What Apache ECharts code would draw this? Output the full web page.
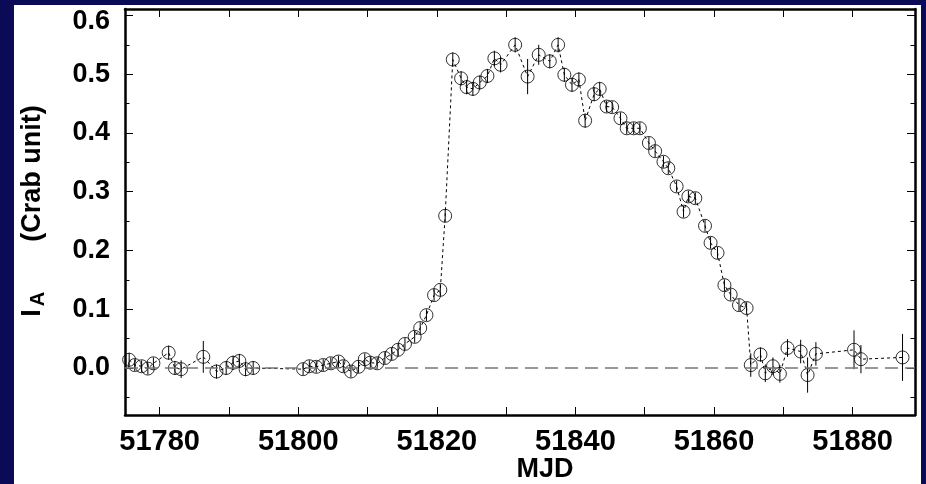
<!DOCTYPE html>
<html>
<head>
<meta charset="utf-8">
<script src="https://cdn.jsdelivr.net/npm/echarts@6/dist/echarts.min.js"></script>
<style>
html,body{margin:0;padding:0;background:#0a0a56;}
#c{width:926px;height:484px;}
</style>
</head>
<body>
<div id="c"></div>
<script>
// ---- data ----
const mjd = [
  51775.6, 51776.4, 51777.4, 51778.3, 51779.1, 51781.3, 51782.2, 51783.1, 51786.3, 51788.2, 51789.6, 51790.6, 51791.5, 51792.4, 51793.5,
  51800.7, 51801.6, 51802.6, 51803.6, 51804.7, 51805.8, 51806.5, 51807.6, 51808.7, 51809.6, 51810.4, 51811.4, 51812.5, 51813.5, 51814.4, 51815.4, 51816.8, 51817.6, 51818.5, 51819.6, 51820.5, 51821.2,
  51822.3, 51823.5, 51824.3, 51825.2, 51826.2, 51827.3, 51828.3, 51829.2, 51831.3, 51833.1, 51834.7, 51836.3, 51837.5, 51838.4, 51839.5, 51840.5, 51841.4, 51842.7, 51843.5,
  51844.5, 51845.3, 51846.5, 51847.4, 51848.4, 51849.3, 51850.6, 51851.5, 51852.7, 51853.4, 51854.6, 51855.6, 51856.3, 51857.3, 51858.7, 51859.5, 51860.5, 51861.5, 51862.4, 51863.6, 51864.7,
  51865.3, 51866.7, 51867.4, 51868.5, 51869.5, 51870.6, 51872.5, 51873.5, 51874.7, 51880.2, 51881.2, 51887.2
];
const flux = [
  0.014, 0.005, 0.003, -0.001, 0.008, 0.026, 0.000, -0.002, 0.019, -0.006, 0.000, 0.009, 0.012, -0.002, 0.000,
  -0.002, 0.003, 0.002, 0.005, 0.008, 0.011, 0.003, -0.006, 0.002, 0.015, 0.009, 0.008, 0.017, 0.024, 0.031, 0.041, 0.053, 0.068, 0.090, 0.124, 0.133, 0.259,
  0.525, 0.493, 0.478, 0.475, 0.486, 0.497, 0.527, 0.516, 0.550, 0.496, 0.533, 0.522, 0.550, 0.499, 0.482, 0.491, 0.421, 0.466, 0.475,
  0.445, 0.444, 0.425, 0.408, 0.408, 0.408, 0.383, 0.369, 0.351, 0.340, 0.309, 0.266, 0.292, 0.289, 0.242, 0.213, 0.196, 0.141, 0.125, 0.107, 0.102,
  0.005, 0.023, -0.009, 0.003, -0.010, 0.034, 0.028, -0.012, 0.024, 0.031, 0.015, 0.018
];
const fluxErr = [
  0.012, 0.010, 0.010, 0.010, 0.010, 0.012, 0.012, 0.015, 0.027, 0.012, 0.012, 0.012, 0.012, 0.012, 0.012,
  0.010, 0.010, 0.010, 0.010, 0.010, 0.010, 0.010, 0.010, 0.010, 0.010, 0.010, 0.010, 0.010, 0.010, 0.010, 0.010, 0.010, 0.010, 0.010, 0.010, 0.010, 0.010,
  0.012, 0.012, 0.012, 0.012, 0.012, 0.012, 0.013, 0.013, 0.013, 0.030, 0.017, 0.012, 0.013, 0.012, 0.012, 0.012, 0.012, 0.012, 0.012,
  0.010, 0.010, 0.010, 0.010, 0.010, 0.010, 0.010, 0.010, 0.010, 0.010, 0.010, 0.010, 0.010, 0.010, 0.010, 0.010, 0.010, 0.010, 0.010, 0.010, 0.010,
  0.020, 0.012, 0.015, 0.015, 0.015, 0.015, 0.020, 0.030, 0.020, 0.033, 0.024, 0.040
];
const xLabelTicks = [51780, 51800, 51820, 51840, 51860, 51880];
const xTicks = [51780, 51790, 51800, 51810, 51820, 51830, 51840, 51850, 51860, 51870, 51880];
const yLabelTicks = [0.0, 0.1, 0.2, 0.3, 0.4, 0.5, 0.6];
const yMinorTicks = [-0.05, 0.05, 0.15, 0.25, 0.35, 0.45, 0.55];
const zeroLevel = 0;

const pts = mjd.map((x, i) => [x, flux[i]]);
const errData = mjd.map((x, i) => [x, flux[i] - fluxErr[i], flux[i] + fluxErr[i]]);

const FONT = '"Liberation Sans", Arial, Helvetica, sans-serif';
const X_MIN = 51775, X_MAX = 51889, Y_MIN = -0.08, Y_MAX = 0.611;

const chart = echarts.init(document.getElementById('c'), null, {renderer: 'canvas'});

function xAx(pos, showLabels) {
  return {
    type: 'value', position: pos, min: X_MIN, max: X_MAX,
    axisLine: {show: true, onZero: false, lineStyle: {color: '#000', width: 2.5}},
    axisTick: {show: true, inside: true, length: 8, customValues: xTicks, lineStyle: {color: '#000', width: 1}},
    axisLabel: {show: showLabels, customValues: xLabelTicks, margin: 12, color: '#000',
      fontFamily: FONT, fontWeight: 'bold', fontSize: 29, formatter: v => String(v)},
    splitLine: {show: false}
  };
}
function yAx(pos, ticks, len, showLine, showLabels) {
  return {
    type: 'value', position: pos, min: Y_MIN, max: Y_MAX, offset: 0,
    axisLine: {show: showLine, onZero: false, lineStyle: {color: '#000', width: 2.5}},
    axisTick: {show: true, inside: true, length: len, customValues: ticks, lineStyle: {color: '#000', width: 1}},
    axisLabel: {show: showLabels, customValues: ticks, margin: 15, color: '#000',
      fontFamily: FONT, fontWeight: 'bold', fontSize: 27,
      formatter: v => (Math.abs(v - 0.6) < 1e-9 ? '{t|' + v.toFixed(1) + '}' : v.toFixed(1)),
      rich: {t: {fontFamily: FONT, fontWeight: 'bold', fontSize: 27, color: '#000', padding: [12, 0, 0, 0]}}},
    splitLine: {show: false}
  };
}

chart.setOption({
  animation: false,
  backgroundColor: '#0a0a56',
  grid: {left: 125, right: 11, top: 9, bottom: 69, show: false},
  graphic: [
    {type: 'rect', z: -10, silent: true, shape: {x: 14, y: 5, width: 907, height: 479}, style: {fill: '#ffffff'}},
    {type: 'text', x: 33, y: 211, rotation: Math.PI / 2, style: {
      text: '{i|I}{s|A}{c|(Crab unit)}',
      align: 'center', verticalAlign: 'middle',
      rich: {
        i: {fontFamily: FONT, fontWeight: 'bold', fontSize: 27, lineHeight: 30, fill: '#000'},
        s: {fontFamily: FONT, fontWeight: 'bold', fontSize: 20, lineHeight: 20, verticalAlign: 'bottom', fill: '#000', padding: [0, 50, 0, 3]},
        c: {fontFamily: FONT, fontWeight: 'bold', fontSize: 27, lineHeight: 30, fill: '#000'}
      }
    }},
    {type: 'text', x: 545, y: 470, style: {text: 'MJD', align: 'center', verticalAlign: 'middle',
      font: 'bold 27px ' + FONT, fill: '#000'}}
  ],
  xAxis: [xAx('bottom', true), xAx('top', false)],
  yAxis: [
    yAx('left', yLabelTicks, 8, true, true),
    yAx('left', yMinorTicks, 4.5, false, false),
    yAx('right', yLabelTicks, 8, true, false),
    yAx('right', yMinorTicks, 4.5, false, false)
  ],
  series: [
    {
      type: 'custom', xAxisIndex: 0, yAxisIndex: 0, silent: true, z: 2,
      data: errData,
      renderItem: function (params, api) {
        const lo = api.coord([api.value(0), api.value(1)]);
        const hi = api.coord([api.value(0), api.value(2)]);
        return {type: 'line', shape: {x1: lo[0], y1: lo[1], x2: hi[0], y2: hi[1]},
          style: {stroke: '#000', lineWidth: 1}};
      },
      encode: {x: 0, y: [1, 2]}
    },
    {
      type: 'line', xAxisIndex: 0, yAxisIndex: 0, data: pts, showSymbol: false, silent: true, z: 3,
      lineStyle: {color: '#000', width: 1, type: [3, 3]},
      markLine: {
        silent: true, symbol: 'none', label: {show: false},
        lineStyle: {color: '#777', width: 1.5, type: [13, 7]},
        data: [{yAxis: zeroLevel}]
      }
    },
    {
      type: 'scatter', xAxisIndex: 0, yAxisIndex: 0, data: pts, symbol: 'circle', symbolSize: 13, silent: true, z: 4,
      itemStyle: {color: 'rgba(0,0,0,0)', borderColor: '#000', borderWidth: 1}
    }
  ]
});
</script>
</body>
</html>
